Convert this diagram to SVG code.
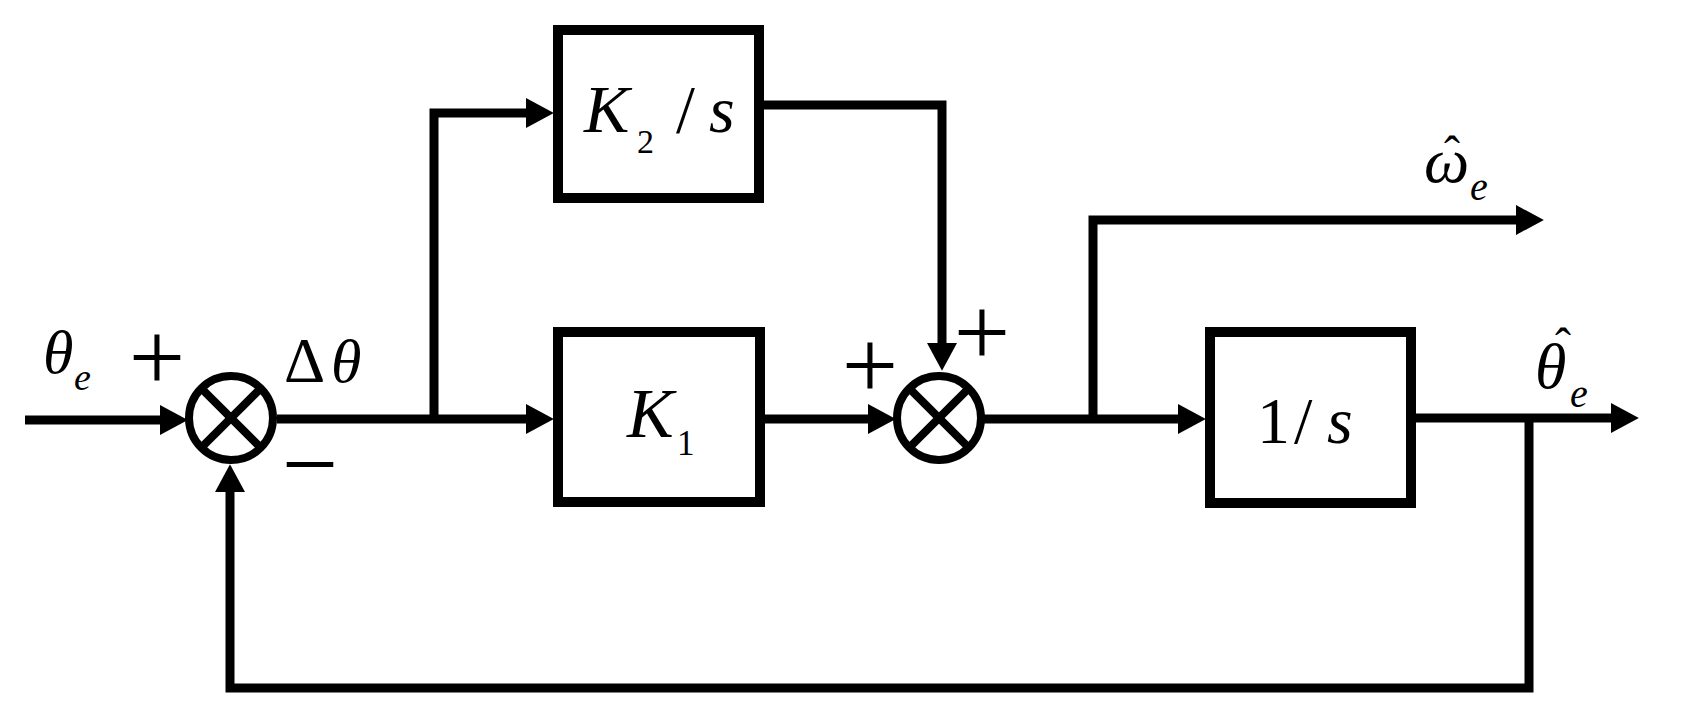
<svg xmlns="http://www.w3.org/2000/svg" width="1685" height="716" viewBox="0 0 1685 716">
<style>
.ln{fill:none;stroke:#000;stroke-width:9;stroke-linejoin:miter;stroke-linecap:butt}
.box{fill:#fff;stroke:#000;stroke-width:10}
.sum{fill:#fff;stroke:#000;stroke-width:8}
.x{stroke:#000;stroke-width:8}
.t{font-family:"Liberation Serif","Times New Roman",serif;fill:#000}
.i{font-style:italic}
.n{font-style:normal}
.sg{font-size:100px;text-anchor:middle}
</style>
<defs>
<marker id="ah" markerUnits="userSpaceOnUse" markerWidth="28" markerHeight="30" viewBox="0 0 26 28" refX="14" refY="14" orient="auto">
<path d="M0,0 L26,14 L0,28 z" fill="#000"/>
</marker>
</defs>
<rect width="1685" height="716" fill="#fff"/>
<g id="connectors">
<path class="ln" d="M25,420 H175" marker-end="url(#ah)"/>
<path class="ln" d="M277,419 H541" marker-end="url(#ah)"/>
<path class="ln" d="M434,420 V113 H541" marker-end="url(#ah)"/>
<path class="ln" d="M764,105 H942 V358" marker-end="url(#ah)"/>
<path class="ln" d="M765,419 H883" marker-end="url(#ah)"/>
<path class="ln" d="M983,419 H1193" marker-end="url(#ah)"/>
<path class="ln" d="M1093,419 V220 H1531" marker-end="url(#ah)"/>
<path class="ln" d="M1415,418 H1626" marker-end="url(#ah)"/>
<path class="ln" d="M1529,418 V688 H230 V477" marker-end="url(#ah)"/>
</g>
<g id="sum1">
<circle class="sum" cx="231" cy="418" r="42"/>
<line class="x" x1="201.3" y1="388.3" x2="260.7" y2="447.7"/>
<line class="x" x1="260.7" y1="388.3" x2="201.3" y2="447.7"/>
</g>
<g id="sum2">
<circle class="sum" cx="939" cy="418" r="42"/>
<line class="x" x1="909.3" y1="388.3" x2="968.7" y2="447.7"/>
<line class="x" x1="968.7" y1="388.3" x2="909.3" y2="447.7"/>
</g>
<g id="k2">
<rect class="box" x="558" y="30" width="201" height="168"/>
<text class="t i" x="584" y="132" font-size="68">K</text>
<text class="t" x="637" y="153" font-size="34">2</text>
<text class="t" x="676" y="132" font-size="68">/</text>
<text class="t i" x="709" y="132" font-size="66">s</text>
</g>
<g id="k1">
<rect class="box" x="558" y="332" width="202" height="170"/>
<text class="t i" x="627" y="437" font-size="70">K</text>
<text class="t" x="677" y="455" font-size="35">1</text>
</g>
<g id="integ">
<rect class="box" x="1210" y="332" width="201" height="171"/>
<text class="t" x="1257" y="443" font-size="66">1</text>
<text class="t" x="1294" y="443" font-size="66">/</text>
<text class="t i" x="1327" y="443" font-size="66">s</text>
</g>
<g id="labels">
<text class="t i" x="43" y="373" font-size="62">θ</text>
<text class="t i" x="74" y="390" font-size="38">e</text>
<text class="t sg" x="157" y="391">+</text>
<text class="t" x="284" y="382" font-size="64">Δ</text>
<text class="t i" x="331" y="382" font-size="62">θ</text>
<text class="t sg" x="310" y="498">−</text>
<text class="t sg" x="870" y="399">+</text>
<text class="t sg" x="982" y="366">+</text>
<text class="t i" x="1424" y="182" font-size="64">ω<tspan class="n" x="1444" y="170" font-size="48">ˆ</tspan><tspan x="1470" y="200" font-size="40">e</tspan></text>
<text class="t i" x="1535" y="388" font-size="64">θ<tspan class="n" x="1555" y="362" font-size="48">ˆ</tspan><tspan x="1570" y="407" font-size="40">e</tspan></text>
</g>
</svg>
